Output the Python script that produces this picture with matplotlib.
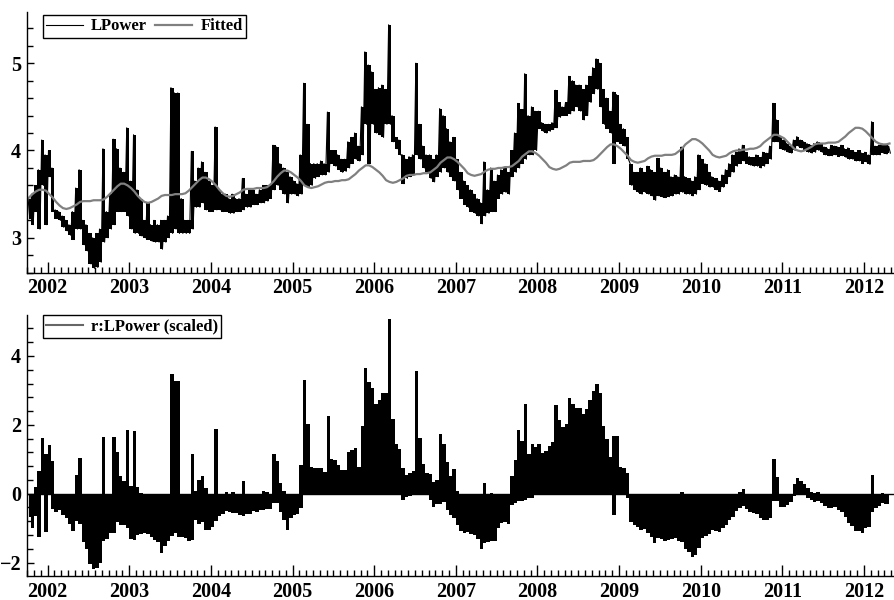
import numpy as np
import matplotlib
matplotlib.use('Agg')
import matplotlib.pyplot as plt
from matplotlib.ticker import MultipleLocator, FixedLocator
from matplotlib.lines import Line2D

plt.rcParams['font.family'] = ['Liberation Serif', 'DejaVu Serif']
plt.rcParams['font.size'] = 14.5
plt.rcParams['font.weight'] = 'bold'

# half-month bins starting Oct 2001; upper / lower edge of the daily series in each bin
start = 2001.75

lpower_hi = [
    3.45, 3.50, 3.60, 3.78, 4.12, 3.95,  # 2001 Oct-Dec
    4.00, 3.80, 3.32, 3.30, 3.25, 3.20, 3.15, 3.30, 3.57, 3.78, 3.20, 3.15, 3.05, 3.00, 3.05, 3.10, 4.02, 3.30, 3.50, 4.13, 4.02, 3.80, 3.75, 4.26,
    3.65, 4.18, 3.55, 3.45, 3.20, 3.40, 3.15, 3.20, 3.15, 3.20, 3.20, 3.25, 4.72, 4.66, 4.66, 3.45, 3.20, 3.20, 3.99, 3.65, 3.80, 3.87, 3.75, 3.65,
    3.60, 4.27, 3.55, 3.50, 3.50, 3.45, 3.50, 3.45, 3.45, 3.68, 3.50, 3.55, 3.55, 3.50, 3.55, 3.60, 3.60, 3.60, 4.06, 4.04, 3.85, 3.80, 3.75, 3.70,
    3.65, 3.62, 3.95, 4.77, 4.30, 3.85, 3.85, 3.85, 3.88, 3.85, 4.44, 4.00, 4.00, 3.95, 3.90, 3.90, 4.10, 4.15, 4.20, 4.05, 4.50, 5.13, 4.98, 4.90,
    4.70, 4.72, 4.75, 4.70, 5.44, 4.40, 4.15, 4.12, 3.95, 3.90, 3.93, 3.95, 5.00, 4.30, 4.05, 3.95, 3.95, 3.90, 3.95, 4.48, 4.40, 4.25, 4.10, 4.15,
    3.90, 3.75, 3.65, 3.60, 3.55, 3.50, 3.45, 3.40, 3.87, 3.55, 3.80, 3.65, 3.72, 3.78, 3.80, 3.75, 4.00, 4.20, 4.54, 4.47, 4.88, 4.40, 4.50, 4.45,
    4.45, 4.32, 4.30, 4.30, 4.32, 4.69, 4.55, 4.50, 4.55, 4.85, 4.80, 4.75, 4.75, 4.70, 4.75, 4.85, 4.95, 5.05, 5.00, 4.70, 4.60, 4.45, 4.67, 4.64,
    4.30, 4.25, 4.15, 3.85, 3.75, 3.75, 3.80, 3.75, 3.82, 3.78, 3.75, 3.91, 3.80, 3.75, 3.78, 3.70, 3.72, 3.70, 4.04, 3.70, 3.68, 3.65, 3.70, 3.95,
    3.90, 3.85, 3.75, 3.70, 3.68, 3.65, 3.72, 3.78, 3.85, 3.95, 3.98, 4.02, 4.06, 3.98, 3.93, 3.92, 3.95, 3.92, 3.98, 3.97, 4.05, 4.54, 4.35, 4.15,
    4.12, 4.08, 4.05, 4.12, 4.16, 4.12, 4.10, 4.08, 4.06, 4.08, 4.10, 4.07, 4.04, 4.02, 4.06, 4.05, 4.04, 4.06, 4.02, 4.03, 4.00, 3.98, 4.00, 3.97,
    3.98, 3.95, 4.33, 4.05, 4.06, 4.08, 4.07, 4.05,  # 2012 Jan-Apr
]

lpower_lo = [
    3.22, 3.15, 3.30, 3.10, 3.60, 3.15,
    3.70, 3.30, 3.22, 3.20, 3.12, 3.08, 3.03, 2.98, 3.10, 3.10, 2.92, 2.85, 2.70, 2.65, 2.66, 2.72, 2.95, 3.00, 3.10, 3.15, 3.30, 3.30, 3.30, 3.25,
    3.10, 3.05, 3.05, 3.02, 3.00, 2.98, 2.96, 2.95, 2.95, 2.87, 2.95, 3.00, 3.05, 3.10, 3.05, 3.05, 3.05, 3.05, 3.10, 3.35, 3.35, 3.40, 3.32, 3.30,
    3.30, 3.32, 3.32, 3.30, 3.30, 3.28, 3.28, 3.30, 3.30, 3.32, 3.35, 3.35, 3.38, 3.38, 3.40, 3.40, 3.42, 3.45, 3.55, 3.60, 3.55, 3.50, 3.40, 3.50,
    3.50, 3.48, 3.50, 3.60, 3.58, 3.60, 3.68, 3.70, 3.72, 3.72, 3.75, 3.85, 3.82, 3.78, 3.75, 3.76, 3.80, 3.85, 3.90, 3.88, 3.95, 4.30, 3.85, 4.30,
    4.20, 4.18, 4.15, 4.30, 4.30, 4.10, 4.02, 3.95, 3.62, 3.68, 3.70, 3.72, 3.95, 3.90, 3.80, 3.75, 3.68, 3.64, 3.70, 3.75, 3.80, 3.75, 3.70, 3.65,
    3.55, 3.45, 3.38, 3.35, 3.30, 3.28, 3.25, 3.16, 3.25, 3.28, 3.30, 3.30, 3.45, 3.50, 3.52, 3.50, 3.70, 3.75, 3.80, 3.85, 3.90, 3.95, 3.95, 4.00,
    4.25, 4.22, 4.20, 4.22, 4.24, 4.26, 4.38, 4.40, 4.40, 4.42, 4.45, 4.50, 4.45, 4.35, 4.40, 4.55, 4.65, 4.70, 4.50, 4.30, 4.25, 4.20, 3.85, 4.10,
    4.08, 4.05, 3.90, 3.60, 3.55, 3.52, 3.50, 3.52, 3.50, 3.48, 3.43, 3.48, 3.47, 3.46, 3.47, 3.48, 3.50, 3.50, 3.52, 3.50, 3.50, 3.48, 3.50, 3.55,
    3.62, 3.60, 3.58, 3.58, 3.55, 3.53, 3.58, 3.62, 3.70, 3.75, 3.82, 3.85, 3.88, 3.85, 3.83, 3.82, 3.82, 3.80, 3.82, 3.85, 3.90, 4.10, 4.10, 4.02,
    4.00, 3.98, 3.97, 4.00, 4.05, 4.03, 4.00, 3.98, 3.97, 3.98, 4.00, 3.98, 3.95, 3.94, 3.94, 3.95, 3.93, 3.94, 3.92, 3.90, 3.90, 3.88, 3.88, 3.85,
    3.87, 3.84, 3.95, 3.95, 3.95, 3.97, 3.96, 3.97,
]

fitted = [
    3.46, 3.50, 3.53, 3.55, 3.55, 3.54,
    3.50, 3.46, 3.41, 3.37, 3.34, 3.33, 3.34, 3.36, 3.38, 3.41, 3.42, 3.42, 3.42, 3.43, 3.43, 3.43, 3.44, 3.47, 3.51, 3.55, 3.59, 3.62, 3.62, 3.60,
    3.57, 3.53, 3.48, 3.44, 3.41, 3.40, 3.41, 3.43, 3.45, 3.48, 3.49, 3.49, 3.49, 3.50, 3.50, 3.50, 3.51, 3.54, 3.58, 3.62, 3.66, 3.69, 3.69, 3.67,
    3.64, 3.60, 3.55, 3.51, 3.48, 3.47, 3.48, 3.50, 3.52, 3.55, 3.56, 3.56, 3.56, 3.57, 3.57, 3.57, 3.58, 3.61, 3.65, 3.70, 3.74, 3.77, 3.77, 3.75,
    3.72, 3.69, 3.65, 3.60, 3.58, 3.57, 3.58, 3.59, 3.61, 3.63, 3.64, 3.64, 3.65, 3.65, 3.66, 3.66, 3.67, 3.70, 3.73, 3.77, 3.80, 3.83, 3.83, 3.81,
    3.78, 3.75, 3.71, 3.66, 3.64, 3.63, 3.64, 3.66, 3.68, 3.71, 3.72, 3.72, 3.73, 3.73, 3.74, 3.74, 3.75, 3.78, 3.81, 3.86, 3.89, 3.92, 3.92, 3.90,
    3.87, 3.83, 3.79, 3.74, 3.72, 3.71, 3.72, 3.73, 3.76, 3.78, 3.79, 3.79, 3.80, 3.80, 3.81, 3.81, 3.82, 3.85, 3.88, 3.93, 3.96, 3.99, 3.99, 3.97,
    3.94, 3.90, 3.86, 3.81, 3.79, 3.78, 3.79, 3.81, 3.83, 3.86, 3.87, 3.87, 3.87, 3.88, 3.88, 3.88, 3.89, 3.92, 3.96, 4.00, 4.04, 4.07, 4.07, 4.05,
    4.02, 3.98, 3.94, 3.89, 3.87, 3.86, 3.87, 3.88, 3.91, 3.93, 3.94, 3.94, 3.94, 3.95, 3.95, 3.95, 3.96, 3.99, 4.02, 4.07, 4.10, 4.13, 4.13, 4.11,
    4.08, 4.04, 4.00, 3.95, 3.93, 3.92, 3.93, 3.94, 3.97, 3.99, 4.00, 4.00, 4.01, 4.01, 4.02, 4.02, 4.03, 4.05, 4.09, 4.12, 4.15, 4.18, 4.18, 4.16,
    4.14, 4.10, 4.06, 4.02, 4.00, 3.99, 4.00, 4.02, 4.04, 4.07, 4.08, 4.08, 4.08, 4.09, 4.09, 4.09, 4.10, 4.13, 4.16, 4.20, 4.23, 4.26, 4.26, 4.25,
    4.22, 4.18, 4.14, 4.10, 4.08, 4.07, 4.07, 4.08,
]

resid_scale = 0.355
years = list(range(2002, 2013))

n = len(fitted)
t_mid = start + (np.arange(n) + 0.5) / 24.0
hi = np.array(lpower_hi)
lo = np.array(lpower_lo)
fit = np.array(fitted)
# line path through both edges of each bin
t_pts = np.column_stack([t_mid - 1 / 96, t_mid + 1 / 96]).ravel()
y_pts = np.column_stack([hi, lo]).ravel()
# scaled residuals, upper / lower edge per bin
r_hi = (hi - fit) / resid_scale
r_lo = (lo - fit) / resid_scale


def style_axis(ax):
    for s in ['top', 'right']:
        ax.spines[s].set_visible(False)
    for s in ['left', 'bottom']:
        ax.spines[s].set_linewidth(1.0)
    ax.set_xlim(2001.743, 2012.38)
    ax.xaxis.set_major_locator(FixedLocator(years))
    ax.xaxis.set_minor_locator(MultipleLocator(1 / 12))
    ax.set_xticklabels([str(y) for y in years])
    ax.tick_params(which='both', direction='in', width=1)
    ax.tick_params(axis='x', which='major', length=8, pad=4)
    ax.tick_params(axis='x', which='minor', length=4)
    ax.tick_params(axis='y', which='major', length=5, pad=4)
    ax.tick_params(axis='y', which='minor', length=4)


fig = plt.figure(figsize=(8.95, 6), dpi=100)
ax1 = fig.add_axes([0.0298, 0.5455, 0.9702, 0.435])
ax2 = fig.add_axes([0.0298, 0.04, 0.9702, 0.435])

# top: series band and fitted values
ax1.fill_between(t_mid, lo, hi, step='mid', color='black', lw=0)
ax1.plot(t_pts, y_pts, color='black', lw=0.8, label='LPower')
ax1.plot(t_mid, fitted, color='#808080', lw=1.6, label='Fitted')
style_axis(ax1)
ax1.set_ylim(2.6, 5.59)
ax1.yaxis.set_major_locator(MultipleLocator(1))
ax1.yaxis.set_minor_locator(MultipleLocator(0.2))
leg = ax1.legend(loc='upper left', bbox_to_anchor=(0.0184, 0.987), ncol=2,
                 fancybox=False, edgecolor='black', framealpha=1, fontsize=12,
                 handlelength=2.2, handletextpad=0.5, columnspacing=0.5,
                 borderpad=0.2, borderaxespad=0)
leg.get_frame().set_linewidth(1.0)

# bottom: scaled residuals filled from zero
ax2.fill_between(t_mid, np.minimum(r_lo, 0), np.maximum(r_hi, 0), step='mid', color='black', lw=0)
ax2.axhline(0, color='black', lw=1.0)
style_axis(ax2)
ax2.set_ylim(-2.39, 5.19)
ax2.yaxis.set_major_locator(MultipleLocator(2))
ax2.yaxis.set_minor_locator(MultipleLocator(0.4))
proxy = Line2D([], [], color='#666666', lw=1.5)
leg2 = ax2.legend([proxy], ['r:LPower (scaled)'], loc='upper left', bbox_to_anchor=(0.0184, 1.0),
                  fancybox=False, edgecolor='black', framealpha=1, fontsize=12,
                  handlelength=2.2, handletextpad=0.5, borderpad=0.2, borderaxespad=0)
leg2.get_frame().set_linewidth(1.0)

plt.savefig('out.png', dpi=100)
